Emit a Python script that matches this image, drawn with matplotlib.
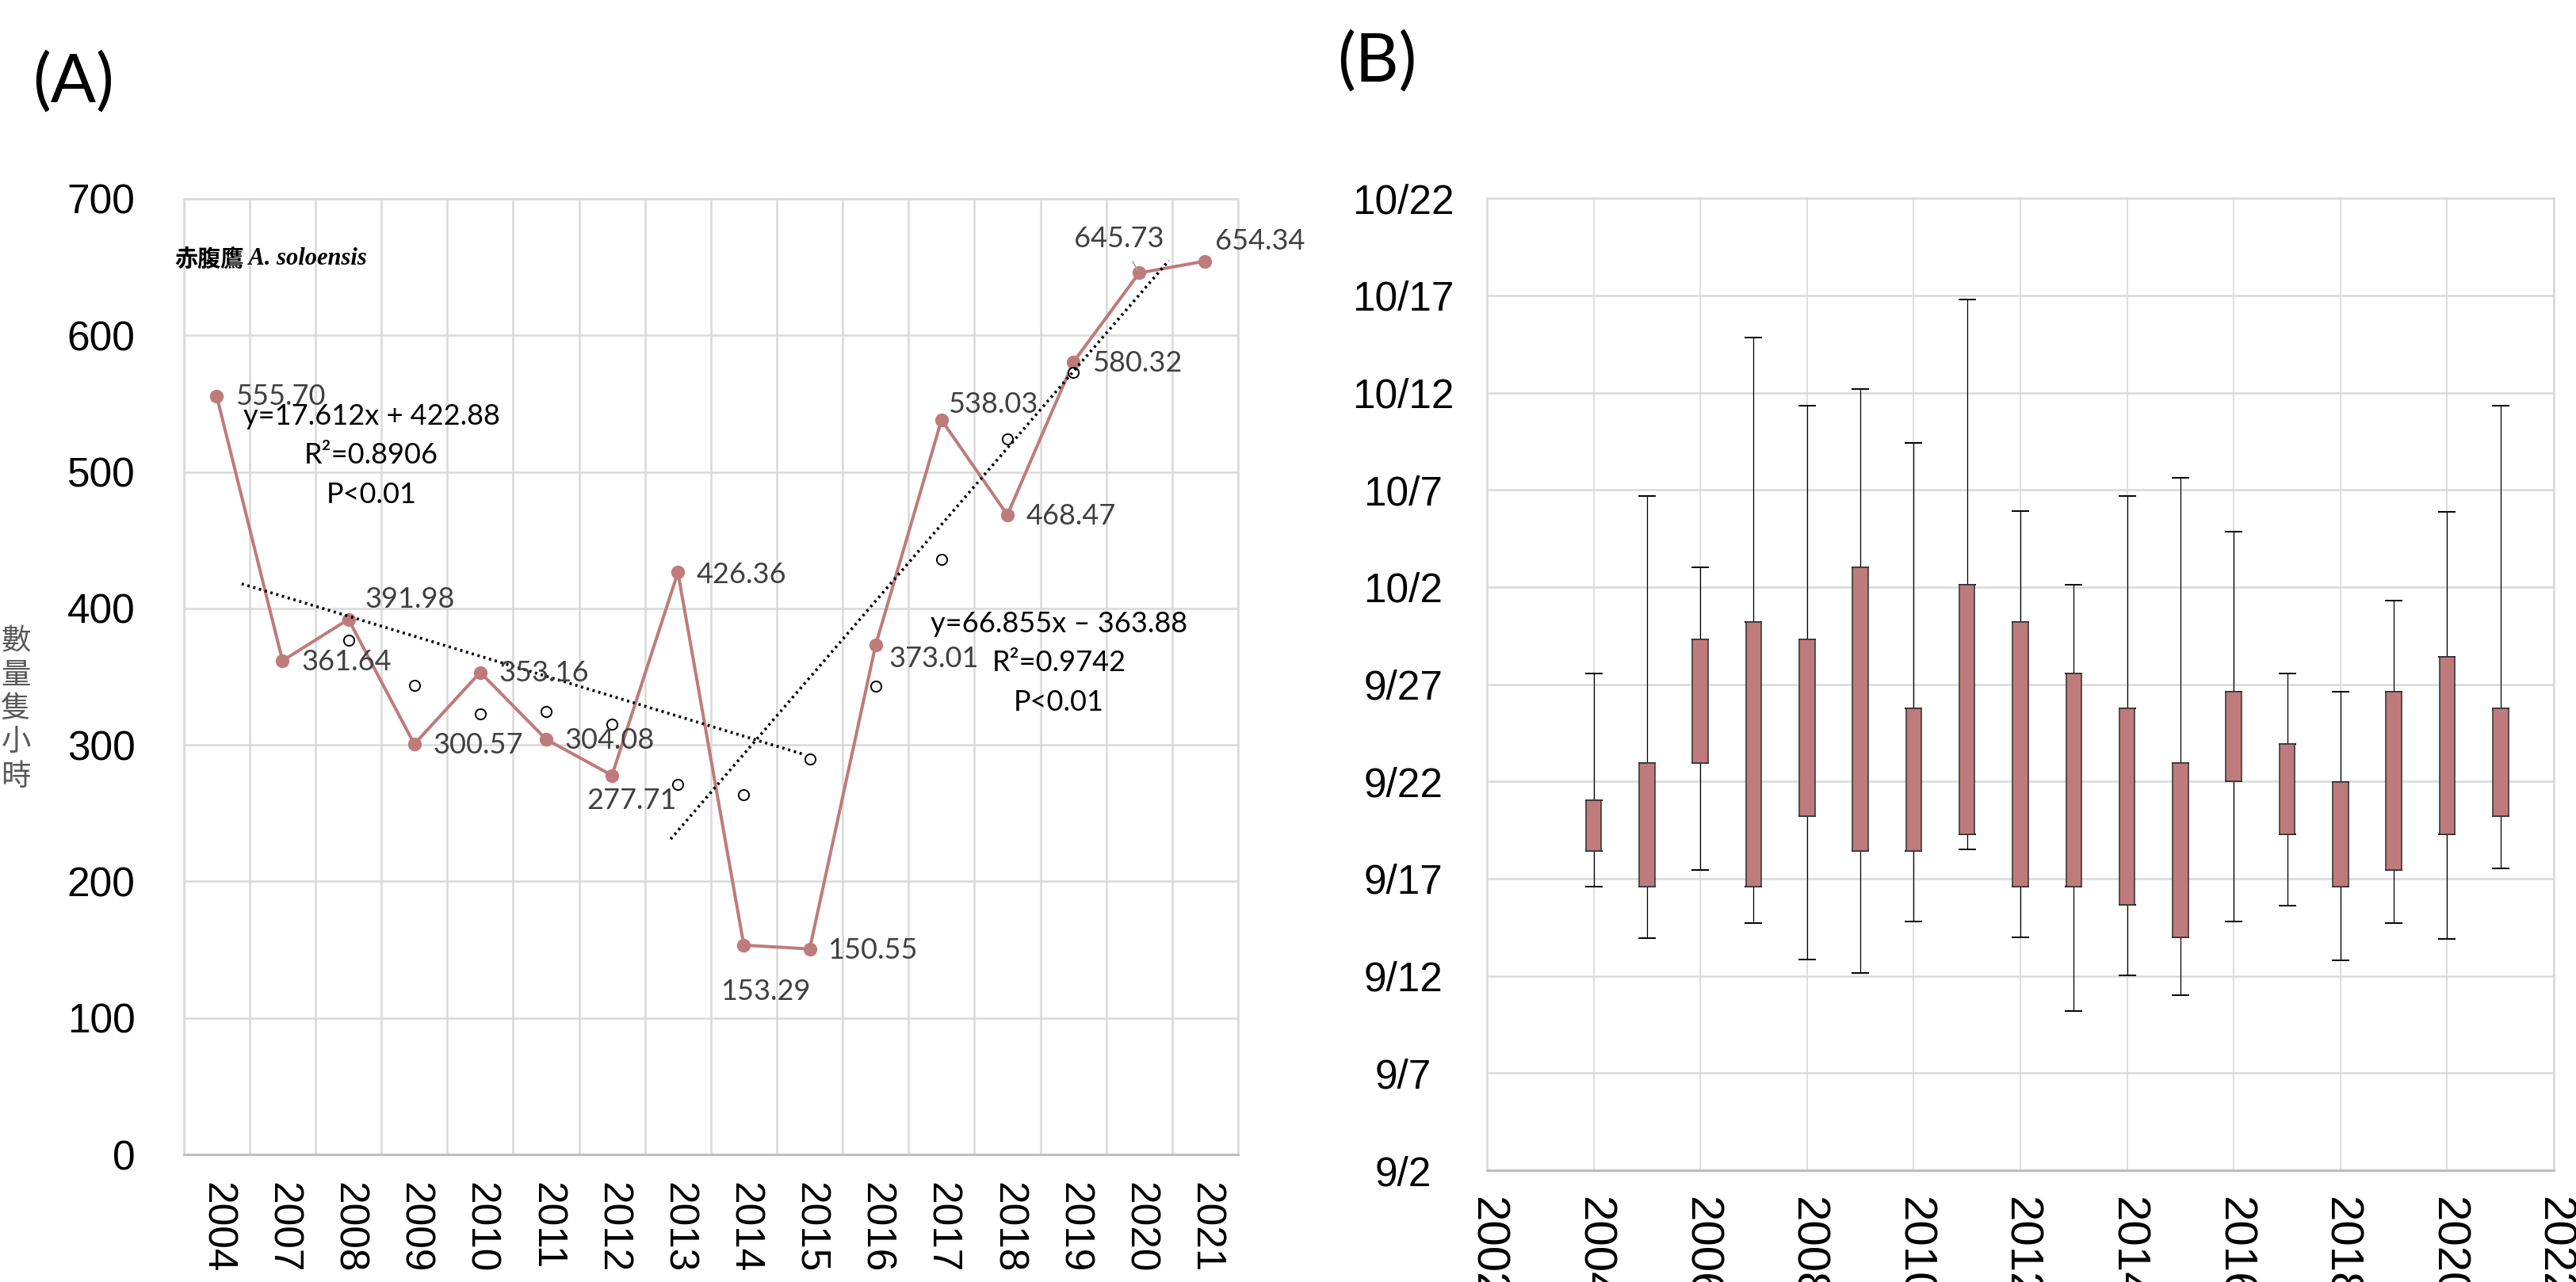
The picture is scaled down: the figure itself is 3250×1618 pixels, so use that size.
import numpy as np
import matplotlib.pyplot as plt
from matplotlib.ticker import FixedLocator

plt.rcParams['font.family'] = ['Liberation Sans', 'Noto Sans CJK TC', 'DejaVu Sans']

# ---- (A) hourly counts of Chinese sparrowhawk ----
years_a = ['2004', '2007', '2008', '2009', '2010', '2011', '2012', '2013',
           '2014', '2015', '2016', '2017', '2018', '2019', '2020', '2021']
counts = [555.70, 361.64, 391.98, 300.57, 353.16, 304.08, 277.71, 426.36,
          153.29, 150.55, 373.01, 538.03, 468.47, 580.32, 645.73, 654.34]
# hollow circles, 2008-2019
ref_years = ['2008', '2009', '2010', '2011', '2012', '2013',
             '2014', '2015', '2016', '2017', '2018', '2019']
ref_vals = [376.4, 343.8, 322.6, 324.3, 315.4, 271.0,
            263.6, 289.6, 343.0, 436.0, 524.0, 572.7]
# dotted trend lines (category position, value) at their two ends
trend1_x = [0.38, 8.90]
trend1_y = [418.0, 293.2]
trend2_x = [6.89, 14.45]
trend2_y = [231.0, 654.8]
eq1 = 'y=17.612x + 422.88\nR\u00b2=0.8906\nP<0.01'
eq2 = 'y=66.855x \u2013 363.88\nR\u00b2=0.9742\nP<0.01'

# ---- (B) passage dates, days after 9/2 ----
years_b = [2004, 2005, 2006, 2007, 2008, 2009, 2010, 2011, 2012,
           2013, 2014, 2015, 2016, 2017, 2018, 2019, 2020, 2021]
d_min = [14.58, 11.95, 15.45, 12.71, 10.84, 10.14, 12.80, 16.50, 11.99,
         8.18, 10.01, 9.01, 12.80, 13.61, 10.82, 12.71, 11.90, 15.54]
d_q1 = [16.41, 14.58, 20.94, 14.58, 18.20, 16.41, 16.41, 17.30, 14.58,
        14.58, 13.67, 11.97, 20.03, 17.30, 14.58, 15.45, 17.30, 18.20]
d_q3 = [19.03, 20.94, 27.30, 28.20, 27.31, 31.01, 23.75, 30.10, 28.20,
        25.55, 23.75, 20.94, 24.60, 21.92, 19.96, 24.60, 26.40, 23.75]
d_max = [25.55, 34.69, 31.01, 42.83, 39.33, 40.20, 37.42, 44.79, 33.90,
         30.10, 34.69, 35.63, 32.83, 25.55, 24.60, 29.30, 33.85, 39.33]
date_ticks = [0, 5, 10, 15, 20, 25, 30, 35, 40, 45, 50]
date_labels = ['9/2', '9/7', '9/12', '9/17', '9/22', '9/27',
               '10/2', '10/7', '10/12', '10/17', '10/22']
year_ticks = [2002, 2004, 2006, 2008, 2010, 2012, 2014, 2016, 2018, 2020, 2022]

line_c = '#BF7B7B'
grid_c = '#D9D9D9'
lab_c = '#404040'

fig = plt.figure(figsize=(32.5, 16.18), dpi=100)

# ================= (A) =================
ax = fig.add_axes([0.0713, 0.0995, 0.4093, 0.7454])
xa = np.arange(len(years_a))
ax.set_xlim(-0.5, len(years_a) - 0.5)
ax.set_ylim(0, 700)
ax.set_yticks(range(0, 701, 100))
ax.set_xticks(xa)
ax.set_xticklabels(years_a, rotation=-90, fontsize=37)
ax.xaxis.set_minor_locator(FixedLocator(np.arange(-0.5, len(years_a), 1.0)))
ax.tick_params(axis='y', labelsize=37, length=0, pad=44)
ax.tick_params(axis='x', which='both', length=0, pad=25)
ax.grid(axis='y', color=grid_c, lw=1.8)
ax.grid(axis='x', which='minor', color=grid_c, lw=1.8)
ax.grid(axis='x', which='major', visible=False)
ax.set_axisbelow(True)
for s in ax.spines.values():
    s.set_color(grid_c)
    s.set_linewidth(1.8)
ax.spines['bottom'].set_color('#BFBFBF')
ax.spines['bottom'].set_linewidth(2.2)

ax.plot(xa, counts, color=line_c, lw=2.9, marker='o', ms=11.5, zorder=3)
ref_x = [years_a.index(y) for y in ref_years]
ax.plot(ref_x, ref_vals, ls='none', marker='o', ms=9.5, mfc='white',
        mec='black', mew=1.4, zorder=4)
ax.plot(trend1_x, trend1_y, color='black', lw=2.6, ls=(0, (0.8, 1.3)), zorder=4)
ax.plot(trend2_x, trend2_y, color='black', lw=2.6, ls=(0, (0.8, 1.3)), zorder=4)

# data label placement: (dx, dy) points, ha
lab_pos = [(17, -1, 'left'), (17, -1, 'left'), (15, 18, 'left'), (17, -1, 'left'),
           (17, -1, 'left'), (17, -1, 'left'), (18, -23, 'center'), (17, -2, 'left'),
           (20, -42, 'center'), (16, -1, 'left'), (12, -12, 'left'), (6, 14, 'left'),
           (17, -1, 'left'), (17, -1, 'left'), (-18, 31, 'center'), (9, 18, 'left')]
for i, (v, (dx, dy, ha)) in enumerate(zip(counts, lab_pos)):
    kw = {}
    if years_a[i] == '2020':
        kw['arrowprops'] = dict(arrowstyle='-', color='#A6A6A6', lw=1.3,
                                shrinkA=8, shrinkB=3)
    ax.annotate(f'{v:.2f}', xy=(i, v), xytext=(dx, dy), textcoords='offset points',
                ha=ha, va='center', fontsize=26, color=lab_c, family='Lato',
                zorder=5, **kw)

ax.text(2.35, 512, eq1, ha='center', va='center', fontsize=26, family='Lato',
        linespacing=1.62, color='black', zorder=5)
ax.text(12.78, 360, eq2, ha='center', va='center', fontsize=26, family='Lato',
        linespacing=1.62, color='black', zorder=5)

t1 = ax.text(-0.0088, 0.937, '赤腹鷹', transform=ax.transAxes, fontsize=21,
             fontweight='bold', family=['Noto Sans CJK TC', 'DejaVu Sans'],
             ha='left', va='center', color='black')
ax.annotate(' A. soloensis', xy=(1, 0.5), xycoords=t1, ha='left', va='center',
            fontsize=22, fontweight='bold', fontstyle='italic',
            family='Liberation Serif', color='black')

fig.text(0.0062, 1 - 895 / 1618, '數\n量\n隻\n小\n時', ha='center', va='center',
         fontsize=27, color='#595959', linespacing=1.12,
         family=['Noto Sans CJK TC', 'DejaVu Sans'])

fig.text(93 / 3250, 1 - 104 / 1618, '(A)', ha='center', va='center',
         fontsize=61, family='Lato')
fig.text(1737 / 3250, 1 - 78 / 1618, '(B)', ha='center', va='center',
         fontsize=61, family='Lato')

# ================= (B) =================
bx = fig.add_axes([0.5772, 0.0871, 0.4142, 0.7583])
bx.set_xlim(2002, 2022)
bx.set_ylim(0, 50)
bx.set_xticks(year_ticks)
bx.set_xticklabels([str(y) for y in year_ticks], rotation=-90, fontsize=42,
                   family=['Liberation Sans Narrow', 'Liberation Sans'])
bx.set_yticks(date_ticks)
bx.set_yticklabels(date_labels, fontsize=37, ha='center')
bx.tick_params(axis='y', length=0, pad=76)
bx.tick_params(axis='x', length=0, pad=24)
bx.grid(axis='y', color=grid_c, lw=1.8)
bx.grid(axis='x', color=grid_c, lw=1.2)
bx.set_axisbelow(True)
for s in bx.spines.values():
    s.set_color(grid_c)
    s.set_linewidth(1.8)
bx.spines['bottom'].set_color('#BFBFBF')
bx.spines['bottom'].set_linewidth(2.2)

q1 = np.array(d_q1)
q3 = np.array(d_q3)
lo = np.array(d_min)
hi = np.array(d_max)
zero = np.zeros(len(years_b))
bx.errorbar(years_b, q3, yerr=[zero, hi - q3], fmt='none', ecolor='black',
            elinewidth=0.9, capsize=8, capthick=1.4, zorder=2)
bx.errorbar(years_b, q1, yerr=[q1 - lo, zero], fmt='none', ecolor='black',
            elinewidth=0.9, capsize=8, capthick=1.4, zorder=2)
bx.bar(years_b, q3 - q1, bottom=q1, width=0.29, color=line_c,
       edgecolor='#3A3A3A', lw=1.2, zorder=3)

fig.savefig('out.png', dpi=100)
